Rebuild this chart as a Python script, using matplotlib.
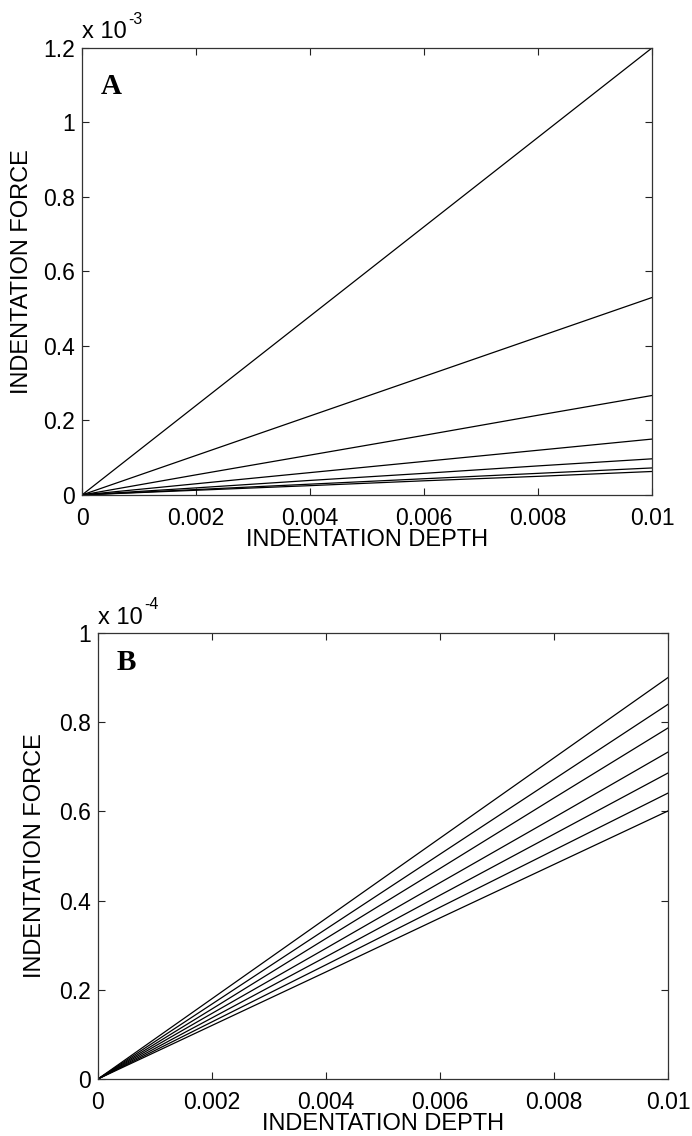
import numpy as np
import matplotlib
matplotlib.use("Agg")
import matplotlib.pyplot as plt
from matplotlib.ticker import FuncFormatter, MultipleLocator

plt.rcParams['font.family'] = ['Liberation Sans', 'DejaVu Sans']

# indentation depth samples (same for both panels)
depth = [0.0, 0.002, 0.004, 0.006, 0.008, 0.01]

# panel A: force at each depth, one list per curve (N)
force_A = [
    [0.0, 0.240e-3, 0.480e-3, 0.720e-3, 0.960e-3, 1.200e-3],
    [0.0, 0.106e-3, 0.212e-3, 0.318e-3, 0.424e-3, 0.530e-3],
    [0.0, 0.054e-3, 0.107e-3, 0.160e-3, 0.214e-3, 0.267e-3],
    [0.0, 0.030e-3, 0.060e-3, 0.090e-3, 0.120e-3, 0.150e-3],
    [0.0, 0.019e-3, 0.039e-3, 0.058e-3, 0.078e-3, 0.097e-3],
    [0.0, 0.0145e-3, 0.029e-3, 0.0435e-3, 0.058e-3, 0.0725e-3],
    [0.0, 0.0126e-3, 0.025e-3, 0.038e-3, 0.050e-3, 0.063e-3],
]

# panel B
force_B = [
    [0.0, 0.180e-4, 0.360e-4, 0.540e-4, 0.720e-4, 0.900e-4],
    [0.0, 0.168e-4, 0.336e-4, 0.504e-4, 0.672e-4, 0.840e-4],
    [0.0, 0.157e-4, 0.315e-4, 0.472e-4, 0.630e-4, 0.787e-4],
    [0.0, 0.147e-4, 0.293e-4, 0.440e-4, 0.586e-4, 0.733e-4],
    [0.0, 0.137e-4, 0.274e-4, 0.412e-4, 0.549e-4, 0.686e-4],
    [0.0, 0.128e-4, 0.256e-4, 0.385e-4, 0.513e-4, 0.641e-4],
    [0.0, 0.120e-4, 0.240e-4, 0.361e-4, 0.481e-4, 0.601e-4],
]


def style_axes(ax, ymax, scale, exp_txt, letter, letter_y, ylab_x):
    ax.set_xlim(0, 0.01)
    ax.set_ylim(0, ymax)
    ax.xaxis.set_major_locator(MultipleLocator(0.002))
    ax.yaxis.set_major_locator(MultipleLocator(0.2 * scale))
    ax.xaxis.set_major_formatter(FuncFormatter(lambda v, p: f'{v:g}'))
    ax.yaxis.set_major_formatter(FuncFormatter(lambda v, p: f'{round(v / scale, 6):g}'))
    ax.tick_params(direction='in', length=5, width=0.8, top=True, right=True,
                   labelsize=16.5, color='#222222')
    ax.tick_params(axis='x', pad=9)
    ax.tick_params(axis='y', pad=5)
    for s in ax.spines.values():
        s.set_linewidth(0.9)
        s.set_color('#333333')
    ax.set_xlabel('INDENTATION DEPTH', fontsize=17)
    ax.set_ylabel('INDENTATION FORCE', fontsize=17)
    ax.yaxis.set_label_coords(ylab_x, 0.5)
    ax.xaxis.set_label_coords(0.5, -0.077)
    ax.text(0.0, 1.01, 'x 10', transform=ax.transAxes, fontsize=17,
            ha='left', va='bottom')
    ax.text(0.081, 1.047, exp_txt, transform=ax.transAxes, fontsize=11.5,
            ha='left', va='bottom')
    ax.text(0.033, letter_y, letter, transform=ax.transAxes, fontsize=21,
            fontweight='bold', family='Liberation Serif', ha='left', va='top')


fig = plt.figure(figsize=(6.92, 11.36), dpi=100)

axA = fig.add_axes([0.1185, 0.5643, 0.8237, 0.3935])
for f in force_A:
    axA.plot(depth, f, color='black', lw=0.9)
style_axes(axA, 1.2e-3, 1e-3, '-3', 'A', 0.945, -0.086)

axB = fig.add_axes([0.1416, 0.0502, 0.8237, 0.3926])
for f in force_B:
    axB.plot(depth, f, color='black', lw=0.9)
style_axes(axB, 1e-4, 1e-4, '-4', 'B', 0.965, -0.091)

fig.savefig('out.png', dpi=100)
